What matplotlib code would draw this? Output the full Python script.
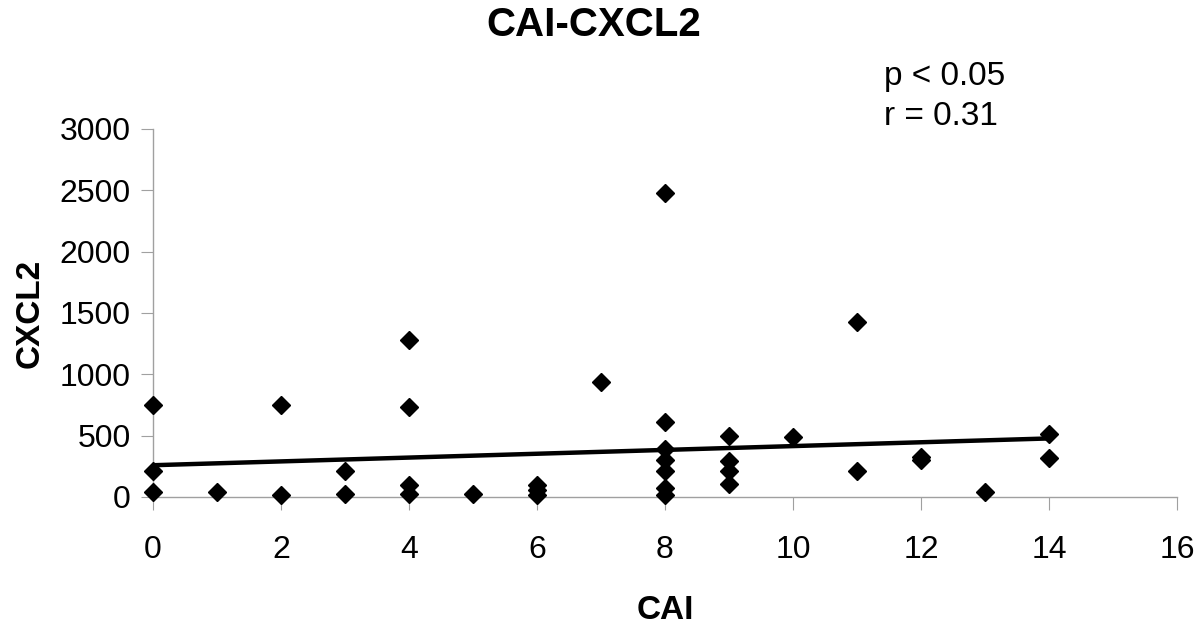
import matplotlib.pyplot as plt

plt.rcParams['font.family'] = ['Liberation Sans', 'DejaVu Sans']

# CAI score vs CXCL2 level
cai = [0, 0, 0,
       1,
       2, 2,
       3, 3,
       4, 4, 4, 4,
       5,
       6, 6, 6,
       7,
       8, 8, 8, 8, 8, 8, 8,
       9, 9, 9, 9,
       10,
       11, 11,
       12, 12,
       13,
       14, 14]
cxcl2 = [750, 210, 40,
         40,
         750, 20,
         210, 25,
         1280, 730, 100, 25,
         25,
         100, 60, 20,
         940,
         2480, 615, 395, 300, 215, 70, 15,
         500, 290, 210, 110,
         490,
         1430, 215,
         330, 305,
         40,
         515, 315]

# linear trend line (intercept, slope) as drawn in the figure
trend_x = [0, 14]
trend_b = 259
trend_m = 15.6

fig = plt.figure(figsize=(12, 6.25), dpi=100)
ax = fig.add_axes([0.1275, 0.2048, 0.8533, 0.5888])

ax.plot(cai, cxcl2, 'D', color='black', markersize=9.5, clip_on=False, zorder=3)
ax.plot(trend_x, [trend_b + trend_m * x for x in trend_x], color='black', lw=3.2, zorder=2)

ax.set_xlim(0, 16)
ax.set_ylim(0, 3000)
ax.set_xticks(range(0, 17, 2))
ax.set_yticks(range(0, 3001, 500))

for s in ['top', 'right']:
    ax.spines[s].set_visible(False)
for s in ['left', 'bottom']:
    ax.spines[s].set_color('#a0a0a0')
    ax.spines[s].set_linewidth(1)
ax.tick_params(axis='both', direction='out', length=9, color='#a0a0a0', labelsize=23, pad=18)
ax.tick_params(axis='y', pad=7)

ax.set_xlabel('CAI', fontsize=24, fontweight='bold', labelpad=22)
ax.set_ylabel('CXCL2', fontsize=24, fontweight='bold', labelpad=10)
fig.suptitle('CAI-CXCL2', x=0.495, y=0.99, fontsize=29, fontweight='bold', va='top')

fig.text(0.737, 0.877, 'p < 0.05', fontsize=24, va='center')
fig.text(0.737, 0.813, 'r = 0.31', fontsize=24, va='center')

fig.savefig('out.png', dpi=100)
